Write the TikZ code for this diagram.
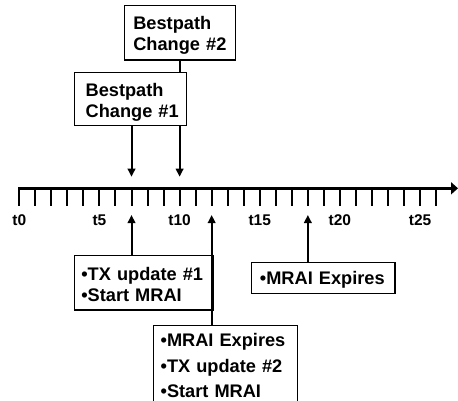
\documentclass[tikz,border=0pt]{standalone}
\usepackage{fontspec}
\setmainfont{Liberation Sans}
\usetikzlibrary{arrows.meta}
\begin{document}
\begin{tikzpicture}[x=1bp,y=-1bp,
  box/.style={draw, line width=1.3bp, fill=white, align=left, anchor=north west,
    inner ysep=0pt, font=\bfseries\fontsize{18.2bp}{21bp}\selectfont},
  conn/.style={line width=2bp},
  arr/.style={conn, -{Triangle[width=7.5bp,length=8bp]}},
  tick/.style={line width=2bp},
  axis/.style={line width=3bp, -{Triangle[width=12bp,length=7bp]}},
  tlabel/.style={anchor=base, inner sep=0pt, font=\bfseries\fontsize{15.5bp}{18bp}\selectfont}]
\useasboundingbox (0,0) rectangle (458,400);
\clip (0,0) rectangle (458,400);

% timeline
\coordinate (ax0) at (18,188.3);
\coordinate (ax1) at (458,188.3);
\draw[axis] (ax0) -- (ax1);
\foreach \i in {0,...,26}{
  \coordinate (tk\i) at ({19.3+16.03*\i},188.3);
  \coordinate (tb\i) at ({19.3+16.03*\i},206);
  \draw[tick] (tk\i) -- (tb\i);
}
\foreach \i in {0,5,...,25}{
  \node[tlabel] (l\i) at ({19.3+16.03*\i},225) {t\i};
}

% arrow end points
\coordinate (d7) at (tk7 |- 0,176.7);
\coordinate (d10) at (tk10 |- 0,176.7);
\coordinate (u7) at (tk7 |- 0,215);
\coordinate (u12) at (tk12 |- 0,215);
\coordinate (u18) at (tk18 |- 0,215);

% top boxes
\node[box, inner xsep=8.7bp, text width=93.6bp, text height=24.3bp, text depth=30bp]
  (b2) at (124,5) {\mbox{Bestpath}\\\mbox{Change \#2}};
\draw[arr] (b2.south -| d10) -- (d10);
\node[box, inner xsep=11bp, text width=90bp, text height=24.3bp, text depth=29bp]
  (b1) at (74,71.7) {\mbox{Bestpath}\\\mbox{Change \#1}};
\draw[arr] (b1.south -| d7) -- (d7);

% bottom boxes
\node[box, inner xsep=6.7bp, text width=125.3bp, text height=25bp, text depth=29.3bp]
  (c1) at (74,255) {\mbox{•TX update \#1}\\\mbox{•Start MRAI}};
\draw[arr] (c1.north -| u7) -- (u7);
\node[box, inner xsep=7bp, text width=130bp, text height=21.8bp, text depth=63.7bp,
  font=\bfseries\fontsize{18.2bp}{25.2bp}\selectfont]
  (c2) at (153,324.5) {\mbox{•MRAI Expires}\\\mbox{•TX update \#2}\\\mbox{•Start MRAI}};
\draw[arr] (c2.north -| u12) -- (u12);
\node[box, inner xsep=8.6bp, text width=126.4bp, text height=22.6bp, text depth=8.4bp]
  (c3) at (250.7,261.7) {\mbox{•MRAI Expires}};
\draw[arr] (c3.north -| u18) -- (u18);
\end{tikzpicture}
\end{document}
